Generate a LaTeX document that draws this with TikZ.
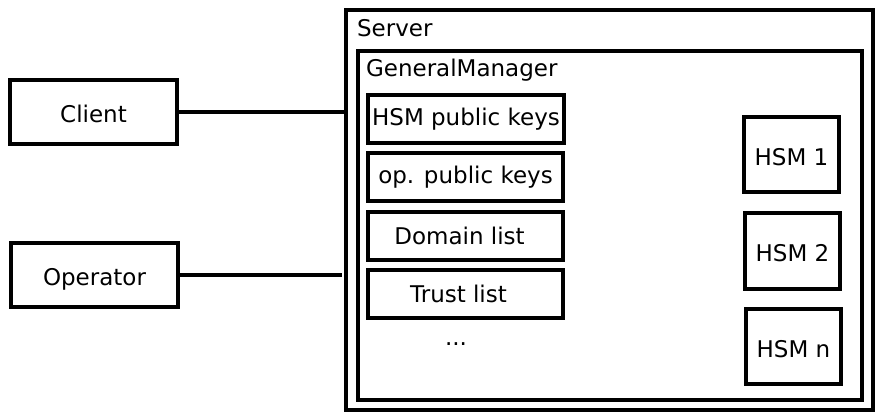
\documentclass[tikz,border=0pt]{standalone}
\usepackage{fontspec}
\setmainfont{DejaVu Sans}
\usepackage{tikz}

\tikzset{
  box/.style={draw, line width=2pt, rectangle, anchor=north west, inner sep=0pt, outer sep=0pt, font=\fontsize{11.5}{13}\selectfont},
  lowtext/.style={text height=10.5pt, text depth=0pt},
  link/.style={line width=2pt},
}

\begin{document}
\begin{tikzpicture}[x=0.5pt, y=-0.5pt]
		\useasboundingbox (0, 0) rectangle (884, 419);

		\node[box, minimum width=263.5pt, minimum height=200pt] at (346, 10) (server) {};
		\node[box, minimum width=252pt, minimum height=174.5pt] at (358, 51) (gm) {};
		\node[anchor=west, font=\fontsize{11.5}{13}\selectfont] at (350, 28) (serverlbl) {Server};
		\node[anchor=west, font=\fontsize{11.5}{13}\selectfont] at (359, 70) (gmlbl) {GeneralManager};

		\node[box, lowtext, minimum width=83.5pt, minimum height=32pt] at (10, 80) (client) {Client};
		\node[box, lowtext, minimum width=83.5pt, minimum height=32pt] at (11, 243) (operator) {Operator};

		\node[box, minimum width=98pt, minimum height=24pt] at (368, 95) (hsmkeys) {HSM public keys};
		\node[box, minimum width=97.5pt, minimum height=24pt] at (368, 153) (opkeys) {op. public keys};
		\node[box, minimum width=97.5pt, minimum height=24pt] at (368, 212) (domain) {Domain list\kern6pt};
		\node[box, minimum width=97.5pt, minimum height=24pt] at (368, 270) (trust) {Trust list\kern7pt};
		\node[font=\fontsize{11.5}{13}\selectfont] at (456, 344) (dots) {...};

		\node[box, lowtext, minimum width=47.5pt, minimum height=37.5pt] at (744, 117) (hsm1) {HSM 1};
		\node[box, lowtext, minimum width=47.5pt, minimum height=38pt] at (745, 213) (hsm2) {HSM 2};
		\node[box, lowtext, minimum width=47.5pt, minimum height=37.5pt] at (746, 309) (hsmn) {HSM n};

		\draw[link] (client.east) -- (client.east -| server.west);
		\draw[link] (operator.east) -- ([xshift=-2pt]operator.east -| server.west);
	\end{tikzpicture}
\end{document}
